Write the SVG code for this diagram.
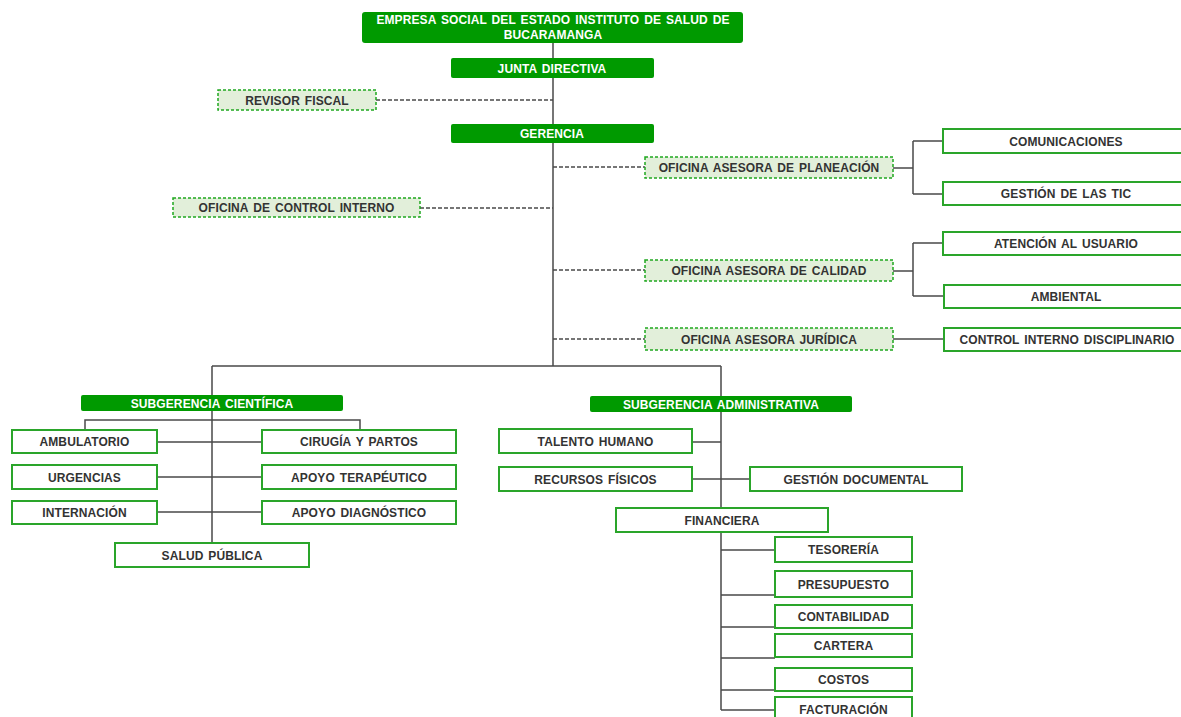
<svg xmlns="http://www.w3.org/2000/svg" width="1181" height="717" viewBox="0 0 1181 717">
<style>
.g rect{fill:#009a00;stroke:none}
.g text{fill:#fff}
.d rect{fill:#e2efda;stroke:#1fa81f;stroke-width:1.5;stroke-dasharray:3 2}
.w rect{fill:#fff;stroke:#2aa52a;stroke-width:2}
text{font-family:"Liberation Sans",Arial,sans-serif;font-weight:bold;font-size:12px;fill:#333;text-anchor:middle;word-spacing:1.5px;letter-spacing:0.1px}
.ln{fill:none;stroke:#4a4a4a;stroke-width:1.5}
.ds{fill:none;stroke:#4a4a4a;stroke-width:1.3;stroke-dasharray:4 2}
</style>
<rect width="1181" height="717" fill="#fff"/>
<g id="connectors">
<path class="ln" d="M553,43V366M212,366H721M212,366V543M721,366V710"/>
<path class="ln" d="M85,430V420H360V430M157,442H262M157,477H262M157,512H262"/>
<path class="ln" d="M692,442H721M692,479H750"/>
<path class="ln" d="M721,550H775M721,595H775M721,627H775M721,658H775M721,690H775M721,710H775"/>
<path class="ln" d="M893,168H913M913,141V194M913,141H943M913,194H943"/>
<path class="ln" d="M893,271H913M913,243V296M913,243H943M913,296H943"/>
<path class="ln" d="M893,339H944"/>
<path class="ds" d="M376,100H553M420,208H553M553,167H645M553,270H645M553,339H645"/>
</g>
<g id="empresa" class="g"><rect x="362" y="12" width="381" height="31" rx="3"/><text x="553" y="24" word-spacing="2.5">EMPRESA SOCIAL DEL ESTADO INSTITUTO DE SALUD DE</text><text x="553" y="39">BUCARAMANGA</text></g>
<g id="junta" class="g"><rect x="451" y="58" width="203" height="20" rx="2"/><text x="552" y="72.5">JUNTA DIRECTIVA</text></g>
<g id="gerencia" class="g"><rect x="451" y="124" width="203" height="19" rx="2"/><text x="552" y="138">GERENCIA</text></g>
<g id="revisor" class="d"><rect x="218" y="90" width="158" height="20"/><text x="297" y="104.5">REVISOR FISCAL</text></g>
<g id="control-interno" class="d"><rect x="173" y="198" width="247" height="19"/><text x="296.5" y="212">OFICINA DE CONTROL INTERNO</text></g>
<g id="planeacion" class="d"><rect x="645" y="157" width="248" height="21"/><text x="769" y="172">OFICINA ASESORA DE PLANEACIÓN</text></g>
<g id="calidad" class="d"><rect x="645" y="260" width="248" height="21"/><text x="769" y="275">OFICINA ASESORA DE CALIDAD</text></g>
<g id="juridica" class="d"><rect x="645" y="328" width="248" height="22"/><text x="769" y="343.5">OFICINA ASESORA JURÍDICA</text></g>
<g id="comunicaciones" class="w"><rect x="943" y="129" width="246" height="24"/><text x="1066" y="145.5">COMUNICACIONES</text></g>
<g id="tic" class="w"><rect x="943" y="182" width="246" height="23"/><text x="1066" y="198" word-spacing="4">GESTIÓN DE LAS TIC</text></g>
<g id="atencion" class="w"><rect x="943" y="232" width="246" height="23"/><text x="1066" y="248">ATENCIÓN AL USUARIO</text></g>
<g id="ambiental" class="w"><rect x="944" y="285" width="246" height="23"/><text x="1066" y="301">AMBIENTAL</text></g>
<g id="disciplinario" class="w"><rect x="944" y="328" width="246" height="23"/><text x="1067" y="344">CONTROL INTERNO DISCIPLINARIO</text></g>
<g id="sub-cientifica" class="g"><rect x="81" y="395" width="262" height="16" rx="2"/><text x="212" y="407.5">SUBGERENCIA CIENTÍFICA</text></g>
<g id="sub-administrativa" class="g"><rect x="590" y="396" width="262" height="16" rx="2"/><text x="721" y="408.5">SUBGERENCIA ADMINISTRATIVA</text></g>
<g id="ambulatorio" class="w"><rect x="12" y="430" width="145" height="23"/><text x="84.5" y="446">AMBULATORIO</text></g>
<g id="urgencias" class="w"><rect x="12" y="465" width="145" height="24"/><text x="84.5" y="481.5">URGENCIAS</text></g>
<g id="internacion" class="w"><rect x="12" y="501" width="145" height="23"/><text x="84.5" y="517">INTERNACIÓN</text></g>
<g id="cirugia" class="w"><rect x="262" y="430" width="194" height="23"/><text x="359" y="446">CIRUGÍA Y PARTOS</text></g>
<g id="terapeutico" class="w"><rect x="262" y="465" width="194" height="24"/><text x="359" y="481.5">APOYO TERAPÉUTICO</text></g>
<g id="diagnostico" class="w"><rect x="262" y="501" width="194" height="23"/><text x="359" y="517">APOYO DIAGNÓSTICO</text></g>
<g id="salud-publica" class="w"><rect x="115" y="543" width="194" height="24"/><text x="212" y="559.5">SALUD PÚBLICA</text></g>
<g id="talento" class="w"><rect x="499" y="429" width="193" height="24"/><text x="595.5" y="445.5">TALENTO HUMANO</text></g>
<g id="recursos" class="w"><rect x="499" y="467" width="193" height="24"/><text x="595.5" y="483.5">RECURSOS FÍSICOS</text></g>
<g id="documental" class="w"><rect x="750" y="467" width="212" height="24"/><text x="856" y="483.5">GESTIÓN DOCUMENTAL</text></g>
<g id="financiera" class="w"><rect x="616" y="508" width="212" height="24"/><text x="722" y="524.5">FINANCIERA</text></g>
<g id="tesoreria" class="w"><rect x="775" y="537" width="137" height="25"/><text x="843.5" y="554">TESORERÍA</text></g>
<g id="presupuesto" class="w"><rect x="775" y="571" width="137" height="26"/><text x="843.5" y="588.5">PRESUPUESTO</text></g>
<g id="contabilidad" class="w"><rect x="775" y="605" width="137" height="23"/><text x="843.5" y="621">CONTABILIDAD</text></g>
<g id="cartera" class="w"><rect x="775" y="634" width="137" height="23"/><text x="843.5" y="650">CARTERA</text></g>
<g id="costos" class="w"><rect x="775" y="668" width="137" height="23"/><text x="843.5" y="684">COSTOS</text></g>
<g id="facturacion" class="w"><rect x="775" y="697" width="137" height="26"/><text x="843.5" y="714">FACTURACIÓN</text></g>
</svg>
